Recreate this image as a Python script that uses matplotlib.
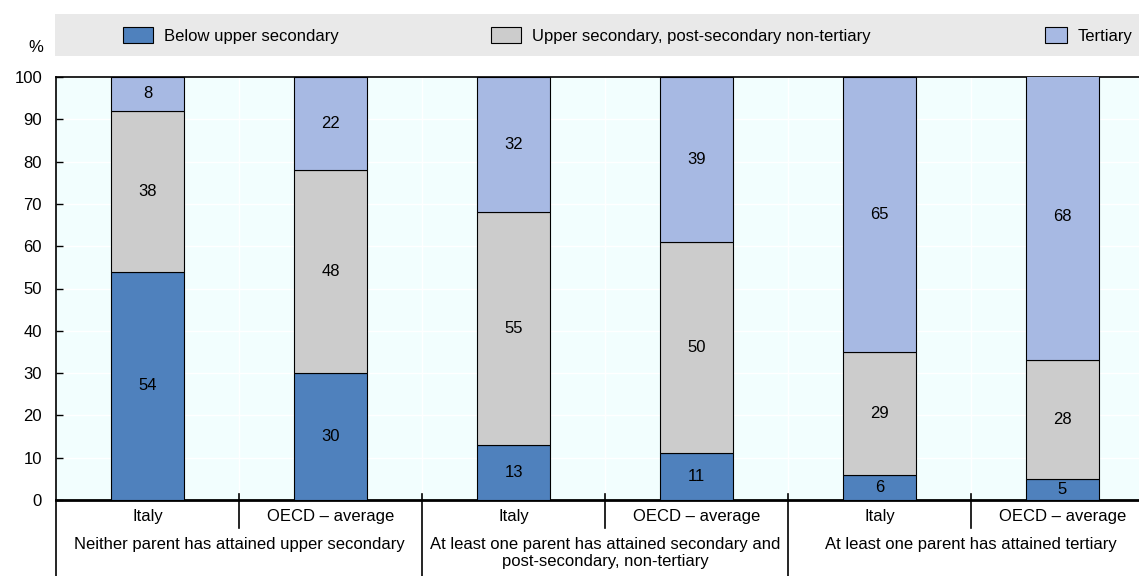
import matplotlib
matplotlib.use("Agg")
import matplotlib.pyplot as plt
from matplotlib.patches import Rectangle
import numpy as np

plt.rcParams["font.family"] = ["Liberation Sans", "DejaVu Sans"]

bar_labels = ["Italy", "OECD \u2013 average"] * 3
group_labels = [
    "Neither parent has attained upper secondary",
    "At least one parent has attained secondary and\npost-secondary, non-tertiary",
    "At least one parent has attained tertiary",
]
series_names = ["Below upper secondary", "Upper secondary, post-secondary non-tertiary", "Tertiary"]
below_upper = [54, 30, 13, 11, 6, 5]
upper_sec = [38, 48, 55, 50, 29, 28]
tertiary = [8, 22, 32, 39, 65, 68]

colors = ["#4F81BD", "#CCCCCC", "#A7B9E3"]
W, H = 1139, 576
fs = 12

fig = plt.figure(figsize=(W / 100, H / 100), dpi=100)
ax = fig.add_axes([56 / W, 1 - 500 / H, 1098 / W, 423 / H])
ax.set_facecolor("#F2FEFE")

x = np.arange(len(bar_labels))
bottom = np.zeros(len(x))
for vals, col in zip([below_upper, upper_sec, tertiary], colors):
    vals = np.array(vals, dtype=float)
    ax.bar(x, vals, width=0.4, bottom=bottom, color=col, edgecolor="black", linewidth=0.8, zorder=3)
    for xi, b, v in zip(x, bottom, vals):
        ax.text(xi, b + v / 2, f"{v:.0f}", ha="center", va="center", fontsize=fs, zorder=4)
    bottom += vals

ax.set_xlim(-0.5, 5.5)
ax.set_ylim(0, 100)
ax.set_yticks(range(0, 101, 10))
ax.tick_params(axis="y", direction="in", length=5, width=1, labelsize=fs, pad=10)
ax.tick_params(axis="x", length=0, labelbottom=False)
ax.grid(axis="y", color="white", linewidth=1, zorder=1)
for xv in np.arange(0.5, 5.5, 1):
    ax.axvline(xv, color="white", linewidth=1, zorder=1)
for sp in ax.spines.values():
    sp.set_color("black")
ax.spines["bottom"].set_linewidth(2)
ax.spines["top"].set_linewidth(1.2)
ax.spines["left"].set_linewidth(1.2)

# category labels below the axis
trans = ax.get_xaxis_transform()
for xi, lab in zip(x, bar_labels):
    ax.text(xi, -17 / 423, lab, transform=trans, ha="center", va="center", fontsize=fs)
for g, lab in enumerate(group_labels):
    ax.text(2 * g + 0.5, -37 / 423, lab, transform=trans, ha="center", va="top",
            fontsize=fs, linespacing=1.2)
# separators
for xv in [0.5, 2.5, 4.5]:
    ax.plot([xv, xv], [6 / 423, -28 / 423], transform=trans, color="black", lw=1.2, clip_on=False)
for xv in [-0.5, 1.5, 3.5]:
    ax.plot([xv, xv], [6 / 423 if xv > 0 else 0, -80 / 423], transform=trans, color="black",
            lw=1.2, clip_on=False)

fig.text(36 / W, 1 - 48 / H, "%", ha="center", va="center", fontsize=fs)

# legend band
fig.patches.append(Rectangle((55 / W, 1 - 56 / H), 1090 / W, 42 / H, transform=fig.transFigure,
                             facecolor="#E9E9E9", edgecolor="none", zorder=0))
legend_x = [123, 491, 1045]
legend_w = [30, 30, 22]
for lx, w, name, col in zip(legend_x, legend_w, series_names, colors):
    fig.patches.append(Rectangle((lx / W, 1 - 43 / H), w / W, 16 / H, transform=fig.transFigure,
                                 facecolor=col, edgecolor="black", linewidth=0.8, zorder=1))
    fig.text((lx + w + 11) / W, 1 - 36 / H, name, ha="left", va="center", fontsize=fs)

fig.savefig("out.png", dpi=100)
